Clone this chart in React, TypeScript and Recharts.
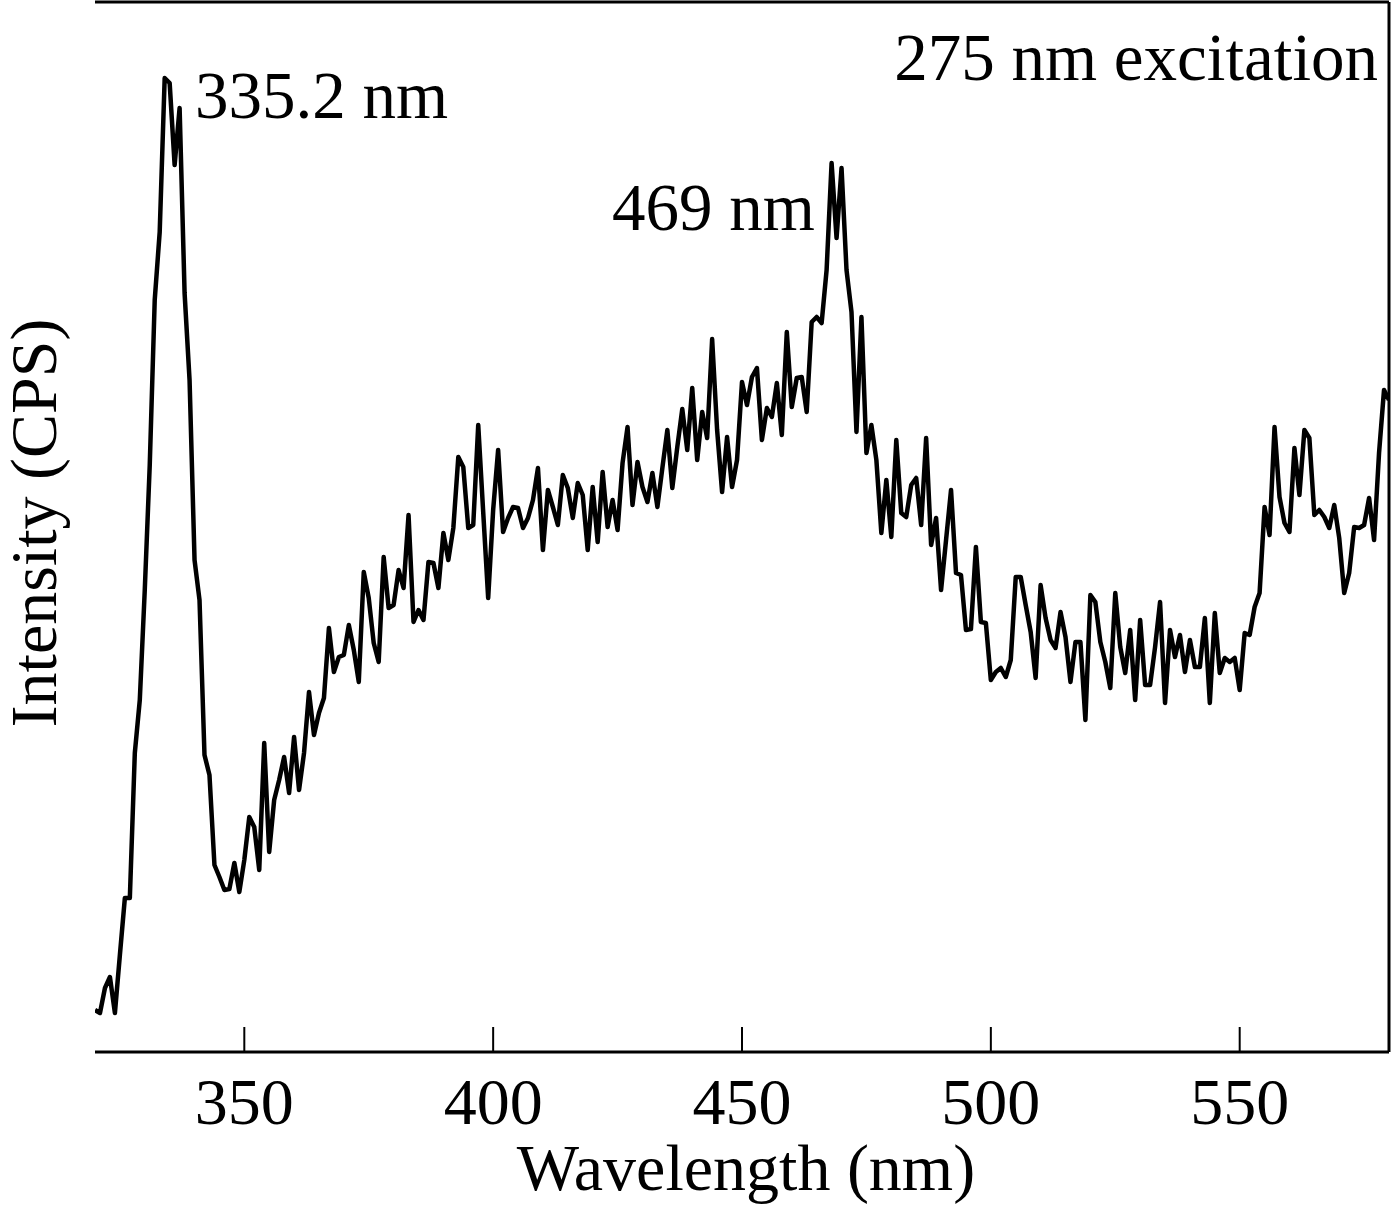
import { LineChart, Line, XAxis, YAxis, ReferenceLine } from "recharts";

// emission spectrum, 1 nm steps starting at 320 nm (arbitrary CPS units)
const startWavelength = 320;
const intensity = [
  42, 39, 64, 75, 39, 97, 154, 154, 299, 352,
  462, 587, 752, 820, 974, 969, 887, 944, 759, 672,
  492, 452, 297, 277, 187, 175, 162, 163, 189, 160,
  192, 235, 225, 182, 309, 200, 252, 272, 295, 259,
  315, 262, 299, 360, 317, 339, 354, 424, 380, 395,
  397, 427, 402, 370, 480, 454, 409, 390, 495, 444,
  447, 482, 464, 537, 430, 442, 432, 490, 489, 464,
  519, 492, 524, 595, 585, 524, 527, 627, 540, 454,
  542, 602, 520, 534, 545, 544, 524, 534, 552, 584,
  502, 562, 545, 527, 577, 564, 534, 569, 557, 502,
  565, 510, 580, 525, 552, 522, 589, 625, 547, 590,
  565, 550, 579, 545, 584, 622, 564, 605, 643, 602,
  664, 592, 640, 614, 713, 622, 560, 615, 565, 592,
  670, 647, 675, 684, 612, 644, 635, 669, 617, 720,
  645, 674, 675, 640, 730, 735, 729, 782, 889, 814,
  884, 782, 740, 620, 735, 599, 627, 592, 519, 572,
  515, 612, 539, 535, 567, 574, 527, 614, 507, 534,
  462, 512, 562, 479, 477, 422, 423, 505, 430, 429,
  372, 380, 384, 375, 392, 475, 475, 447, 420, 374,
  467, 434, 412, 404, 440, 415, 370, 410, 410, 332,
  457, 450, 410, 390, 364, 459, 405, 379, 422, 352,
  432, 367, 367, 405, 450, 349, 422, 395, 417, 380,
  412, 385, 385, 434, 349, 439, 379, 394, 390, 394,
  362, 419, 417, 445, 459, 545, 517, 625, 555, 529,
  520, 604, 557, 622, 614, 537, 542, 535, 524, 547,
  514, 459, 479, 525, 524, 527, 554, 512, 599, 662,
  652,
];
const xTicks = [350, 400, 450, 500, 550];

const data = intensity.map((v, i) => ({ wl: startWavelength + i, v }));

const font = "'Liberation Serif', 'Times New Roman', serif";

export default function App() {
  return (
    <div style={{ position: "absolute", left: 0, top: 0, width: 1393, height: 1216, background: "#fff" }}>
      <LineChart
        width={1393}
        height={1216}
        data={data}
        margin={{ top: 2, right: 4, left: 95, bottom: 54 }}
      >
        <XAxis
          dataKey="wl"
          type="number"
          domain={[320, 580]}
          ticks={xTicks}
          height={110}
          axisLine={{ stroke: "#000", strokeWidth: 3 }}
          tickLine={{ stroke: "#000", strokeWidth: 2 }}
          tickSize={-25}
          tickMargin={50}
          tick={{ fill: "#000", fontSize: 66, fontFamily: font }}
          allowDataOverflow
        />
        <YAxis
          domain={[0, 1050]}
          width={0}
          tick={false}
          tickLine={false}
          axisLine={{ stroke: "#000", strokeWidth: 3 }}
          allowDataOverflow
        />
        <ReferenceLine y={1050} stroke="#000" strokeWidth={3} />
        <ReferenceLine x={580} stroke="#000" strokeWidth={3} />
        <Line
          type="linear"
          dataKey="v"
          stroke="#000"
          strokeWidth={4.5}
          strokeLinejoin="round"
          dot={false}
          isAnimationActive={false}
        />
      </LineChart>
      <svg
        width={1393}
        height={1216}
        style={{ position: "absolute", left: 0, top: 0, pointerEvents: "none" }}
      >
        <g fontFamily={font} fontSize={67} fill="#000">
          <text x={195} y={118}>335.2 nm</text>
          <text x={612} y={230}>469 nm</text>
          <text x={1378} y={80} textAnchor="end">275 nm excitation</text>
          <text x={746} y={1190} textAnchor="middle" fontSize={66}>Wavelength (nm)</text>
          <text x={56} y={523} textAnchor="middle" fontSize={66} transform="rotate(-90 56 523)">
            Intensity (CPS)
          </text>
        </g>
      </svg>
    </div>
  );
}
